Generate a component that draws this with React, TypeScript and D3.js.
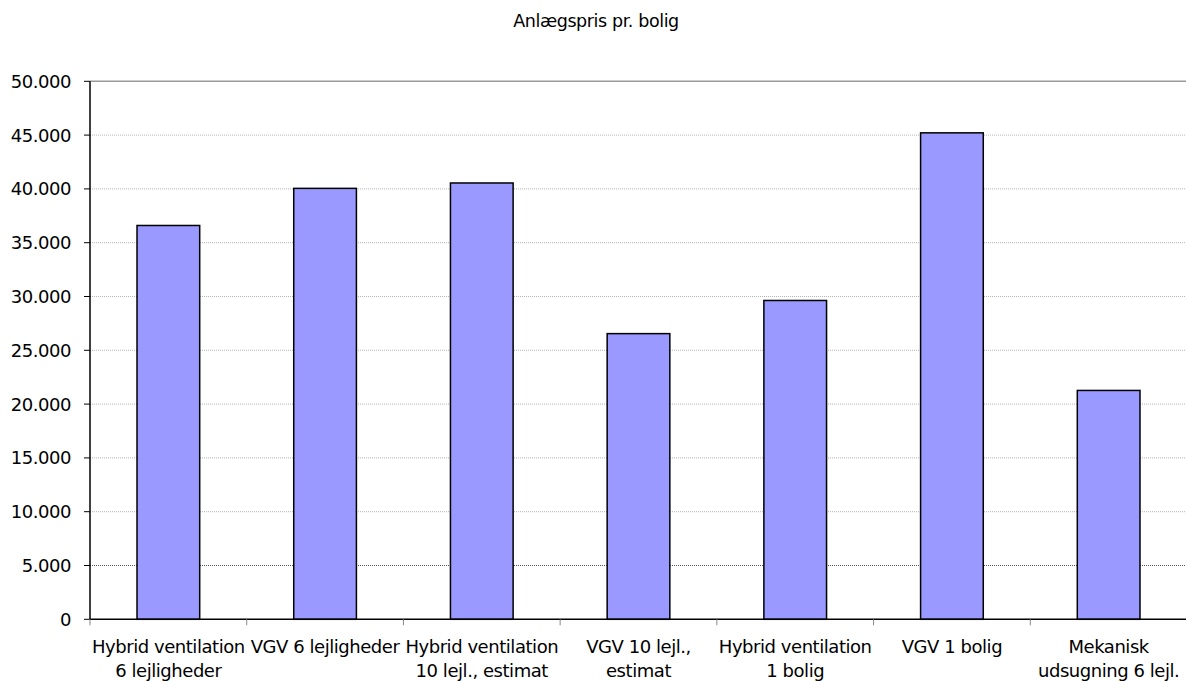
import React from "react";
import * as d3 from "d3";

const categories: string[][] = [
  ["Hybrid ventilation", "6 lejligheder"],
  ["VGV 6 lejligheder"],
  ["Hybrid ventilation", "10 lejl., estimat"],
  ["VGV 10 lejl.,", "estimat"],
  ["Hybrid ventilation", "1 bolig"],
  ["VGV 1 bolig"],
  ["Mekanisk", "udsugning 6 lejl."],
];
const prices: number[] = [36600, 40050, 40550, 26550, 29630, 45210, 21270];
const yTicks: number[] = [0, 5000, 10000, 15000, 20000, 25000, 30000, 35000, 40000, 45000, 50000];
const title = "Anlægspris pr. bolig";

const W = 1186;
const H = 681;
const plot = { left: 90, right: 1187, top: 81.3, bottom: 619.3 };
const FONT = "'DejaVu Sans', Verdana, sans-serif";

const fmt = (v: number) => d3.format(",")(v).replace(/,/g, ".");

export default function App() {
  const keys = categories.map((_, i) => String(i));
  const x = d3.scaleBand<string>().domain(keys).range([plot.left, plot.right]).paddingInner(0).paddingOuter(0);
  const y = d3.scaleLinear().domain([0, 50000]).range([plot.bottom, plot.top]);
  const bw = x.bandwidth();
  const barW = bw * 0.4;

  return (
    <svg
      width={W}
      height={H}
      style={{ position: "absolute", left: 0, top: 0, background: "#fff" }}
      fontFamily={FONT}
    >
      <text x={596} y={27} textAnchor="middle" fontSize={17.5} letterSpacing={-0.4} fill="#000">
        {title}
      </text>

      {/* horizontal gridlines */}
      {yTicks.filter((t) => t > 0).map((t) => (
        <line
          key={t}
          x1={plot.left}
          x2={plot.right}
          y1={y(t)}
          y2={y(t)}
          stroke={t === 5000 ? "#555" : t === 50000 ? "#999" : "#b4b4b4"}
          strokeWidth={t === 50000 ? 1.5 : 1}
          strokeDasharray={t === 50000 ? undefined : "1 1"}
        />
      ))}

      {/* bars */}
      {prices.map((v, i) => {
        const cx = (x(String(i)) as number) + bw / 2;
        return (
          <rect
            key={i}
            x={cx - barW / 2}
            y={y(v)}
            width={barW}
            height={y(0) - y(v)}
            fill="#9999ff"
            stroke="#000"
            strokeWidth={1.5}
          />
        );
      })}

      {/* y axis */}
      <line x1={plot.left} x2={plot.left} y1={plot.top} y2={plot.bottom} stroke="#000" strokeWidth={1.5} />
      {yTicks.map((t) => (
        <g key={t}>
          <line x1={plot.left - 6} x2={plot.left} y1={y(t)} y2={y(t)} stroke="#000" strokeWidth={1} />
          <text
            x={71}
            y={y(t)}
            dy="0.36em"
            textAnchor="end"
            fontSize={18}
            letterSpacing={-0.45}
            fill="#000"
          >
            {fmt(t)}
          </text>
        </g>
      ))}

      {/* x axis */}
      <line x1={plot.left} x2={plot.right} y1={plot.bottom} y2={plot.bottom} stroke="#000" strokeWidth={1.5} />
      {keys.map((k) => (
        <line
          key={"t" + k}
          x1={x(k) as number}
          x2={x(k) as number}
          y1={plot.bottom}
          y2={plot.bottom + 6}
          stroke="#888"
          strokeWidth={1}
        />
      ))}
      {categories.map((lines, i) => {
        const cx = (x(String(i)) as number) + bw / 2;
        return (
          <text key={"c" + i} textAnchor="middle" fontSize={18} letterSpacing={-0.45} fill="#000">
            {lines.map((ln, j) => (
              <tspan key={j} x={cx} y={652.7 + j * 24}>
                {ln}
              </tspan>
            ))}
          </text>
        );
      })}
    </svg>
  );
}
